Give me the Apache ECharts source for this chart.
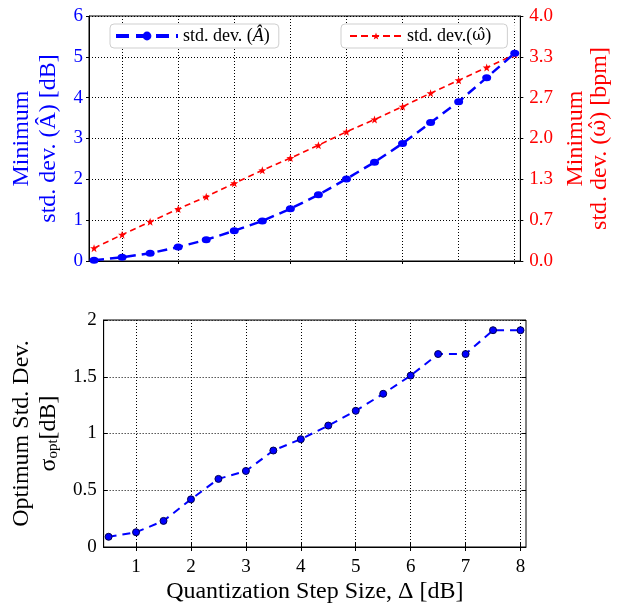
<!DOCTYPE html>
<html>
<head>
<meta charset="utf-8">
<script src="https://cdn.jsdelivr.net/npm/echarts@6/dist/echarts.min.js"></script>
<style>
  html, body { margin: 0; padding: 0; background: #fff; }
  #chart { width: 620px; height: 605px; }
</style>
</head>
<body>
<div id="chart"></div>
<script>
// Quantization step sizes Δ [dB]
const stepSizes = [0.5, 1, 1.5, 2, 2.5, 3, 3.5, 4, 4.5, 5, 5.5, 6, 6.5, 7, 7.5, 8];
// Minimum std. dev. of the amplitude estimate [dB]
const ampStd = [0.02, 0.09, 0.19, 0.34, 0.52, 0.74, 0.98, 1.28, 1.62, 2.01, 2.42, 2.88, 3.39, 3.90, 4.49, 5.09];
// Minimum std. dev. of the frequency estimate [bpm]
const freqStd = [0.21, 0.43, 0.64, 0.85, 1.05, 1.27, 1.48, 1.68, 1.89, 2.11, 2.31, 2.52, 2.74, 2.95, 3.16, 3.37];
// Optimum std. dev. σopt [dB]
const optStd = [0.09, 0.13, 0.23, 0.42, 0.60, 0.67, 0.85, 0.95, 1.07, 1.20, 1.35, 1.51, 1.70, 1.70, 1.91, 1.91];
// Lone open marker in the upper panel
const strayMark = [[8, 5.75]];

// Tick positions
const xGridTicks = [1, 2, 3, 4, 5, 6, 7, 8];
const xUpperTicks = [2, 4, 6, 8];
const freqTicks = [0, 0.66667, 1.33333, 2, 2.66667, 3.33333, 4];

const FONT = "'Liberation Serif', 'DejaVu Serif', serif";
const HAT_FONT = "'DejaVu Serif', 'Liberation Serif', serif";
const BLUE = '#0000ff';
const RED = '#ff0000';
const STAR = 'path://M0,-10 L2.35,-3.24 L9.51,-3.09 L3.8,1.24 L5.88,8.09 L0,4 L-5.88,8.09 L-3.8,1.24 L-9.51,-3.09 L-2.35,-3.24 Z';

const zip = (xs, ys) => xs.map((x, i) => [x, ys[i]]);
const dotted = { type: [1, 2], color: '#000', width: 1 };
const X_MIN = 0.41, X_MAX = 8.1;

const chart = echarts.init(document.getElementById('chart'), null, { renderer: 'canvas' });

chart.setOption({
  animation: false,
  backgroundColor: '#fff',
  grid: [
    { left: 89, top: 16, width: 435, height: 245, show: true, borderColor: '#000', borderWidth: 1, backgroundColor: 'transparent' },
    { left: 88, top: 320, width: 438, height: 227, show: true, borderColor: '#000', borderWidth: 1, backgroundColor: 'transparent' }
  ],
  legend: [
    {
      data: [{ name: 'std. dev. (Â)', lineStyle: { width: 4, type: [13, 7] } }],
      left: 110, top: 24,
      itemWidth: 62, itemHeight: 11, itemGap: 0,
      padding: [3, 9, 3, 4],
      borderColor: '#cfcfcf', borderWidth: 1, borderRadius: 4,
      backgroundColor: '#fff',
      selectedMode: false,
      formatter: () => '{t|std. dev. (}{i|Â}{t|)}',
      textStyle: {
        fontFamily: FONT, fontSize: 18, color: '#000',
        rich: {
          t: { fontFamily: FONT, fontSize: 18, color: '#000' },
          i: { fontFamily: FONT, fontSize: 18, color: '#000', fontStyle: 'italic' }
        }
      }
    },
    {
      data: [{ name: 'std. dev.(ω̂)', lineStyle: { width: 2, type: [7, 4] } }],
      left: 341, top: 24,
      itemWidth: 52, itemHeight: 9, itemGap: 0,
      padding: [3, 16, 3, 8],
      borderColor: '#cfcfcf', borderWidth: 1, borderRadius: 4,
      backgroundColor: '#fff',
      selectedMode: false,
      formatter: () => '{t|std. dev.(}{w|ω̂}{t|)}',
      textStyle: {
        fontFamily: FONT, fontSize: 18, color: '#000',
        rich: {
          t: { fontFamily: FONT, fontSize: 18, color: '#000' },
          w: { fontFamily: HAT_FONT, fontSize: 16, color: '#000' }
        }
      }
    }
  ],
  xAxis: [
    {
      gridIndex: 0, type: 'value', min: X_MIN, max: X_MAX, position: 'bottom',
      axisLine: { show: true, lineStyle: { color: '#000', width: 1 } },
      axisTick: { show: false, customValues: xGridTicks },
      axisLabel: { show: false },
      splitLine: { show: true, lineStyle: dotted }
    },
    {
      gridIndex: 0, type: 'value', min: X_MIN, max: X_MAX, position: 'bottom',
      axisLine: { show: false },
      axisTick: { show: true, inside: false, length: 3, customValues: xUpperTicks, lineStyle: { color: '#000' } },
      axisLabel: { show: false },
      splitLine: { show: false }
    },
    {
      gridIndex: 1, type: 'value', min: X_MIN, max: X_MAX, position: 'bottom',
      axisLine: { show: true, lineStyle: { color: '#000', width: 1 } },
      axisTick: { show: true, inside: true, length: 4, customValues: xGridTicks, lineStyle: { color: '#000' } },
      axisLabel: { show: true, customValues: xGridTicks, fontFamily: FONT, fontSize: 19, color: '#000', margin: 11 },
      splitLine: { show: true, lineStyle: dotted },
      name: 'Quantization Step Size, Δ [dB]',
      nameLocation: 'middle', nameGap: 33,
      nameTextStyle: { fontFamily: FONT, fontSize: 24, color: '#000' }
    },
    {
      gridIndex: 1, type: 'value', min: X_MIN, max: X_MAX, position: 'top',
      axisLine: { show: false },
      axisTick: { show: true, inside: true, length: 4, customValues: xGridTicks, lineStyle: { color: '#000' } },
      axisLabel: { show: false },
      splitLine: { show: false }
    }
  ],
  yAxis: [
    {
      gridIndex: 0, type: 'value', min: 0, max: 6, interval: 1, position: 'left',
      axisLine: { show: true, lineStyle: { color: '#000', width: 1 } },
      axisTick: { show: true, inside: false, length: 3, lineStyle: { color: '#000' } },
      axisLabel: { fontFamily: FONT, fontSize: 19, color: BLUE, margin: 6 },
      splitLine: { show: true, lineStyle: dotted },
      name: 'Minimum\nstd. dev. (Â) [dB]',
      nameLocation: 'middle', nameRotate: 90, nameGap: 21,
      nameTextStyle: { fontFamily: FONT, fontSize: 24, lineHeight: 27, color: BLUE, align: 'center' }
    },
    {
      gridIndex: 0, type: 'value', min: 0, max: 4, position: 'right',
      axisLine: { show: true, lineStyle: { color: '#000', width: 1 } },
      axisTick: { show: true, inside: false, length: 3, customValues: freqTicks, lineStyle: { color: '#000' } },
      axisLabel: { customValues: freqTicks, formatter: v => v.toFixed(1), fontFamily: FONT, fontSize: 19, color: RED, margin: 9 },
      splitLine: { show: false },
      name: '{r|Minimum}\n{r|std. dev. (}{w|ω̂}{r|) [bpm]}',
      nameLocation: 'middle', nameRotate: 90, nameGap: 37,
      nameTextStyle: {
        fontFamily: FONT, fontSize: 24, lineHeight: 24, color: RED, align: 'center',
        rich: {
          r: { fontFamily: FONT, fontSize: 24, lineHeight: 24, color: RED },
          w: { fontFamily: HAT_FONT, fontSize: 21, lineHeight: 24, color: RED }
        }
      }
    },
    {
      gridIndex: 1, type: 'value', min: 0, max: 2, interval: 0.5, position: 'left',
      axisLine: { show: true, lineStyle: { color: '#000', width: 1 } },
      axisTick: { show: true, inside: true, length: 4, lineStyle: { color: '#000' } },
      axisLabel: { fontFamily: FONT, fontSize: 19, color: '#000', margin: 7 },
      splitLine: { show: true, lineStyle: dotted },
      name: '{a|Optimum Std. Dev.}\n{a|σ}{sub|opt}{a|[dB]}',
      nameLocation: 'middle', nameRotate: 90, nameGap: 22,
      nameTextStyle: {
        fontFamily: FONT, fontSize: 24, lineHeight: 27, color: '#000', align: 'center',
        rich: {
          a: { fontFamily: FONT, fontSize: 24, lineHeight: 27, color: '#000' },
          sub: { fontFamily: FONT, fontSize: 15, lineHeight: 17, color: '#000', padding: [10, 0, 0, 0] }
        }
      }
    },
    {
      gridIndex: 1, type: 'value', min: 0, max: 2, interval: 0.5, position: 'right',
      axisLine: { show: false },
      axisTick: { show: true, inside: true, length: 4, lineStyle: { color: '#000' } },
      axisLabel: { show: false },
      splitLine: { show: false }
    }
  ],
  series: [
    {
      name: 'std. dev.(ω̂)', type: 'line', xAxisIndex: 0, yAxisIndex: 1,
      data: zip(stepSizes, freqStd),
      color: RED,
      lineStyle: { color: RED, width: 1.6, type: [6, 4] },
      itemStyle: { color: RED },
      symbol: STAR, symbolSize: 8, showSymbol: true,
      z: 3
    },
    {
      name: 'std. dev. (Â)', type: 'line', xAxisIndex: 0, yAxisIndex: 0,
      data: zip(stepSizes, ampStd),
      color: BLUE,
      lineStyle: { color: BLUE, width: 2.5, type: [10, 6] },
      itemStyle: { color: BLUE },
      symbol: 'circle', symbolSize: [9, 7], showSymbol: true,
      z: 4
    },
    {
      name: 'stray', type: 'scatter', xAxisIndex: 0, yAxisIndex: 0,
      data: strayMark,
      symbol: 'emptyCircle', symbolSize: 5,
      itemStyle: { color: '#fff', borderColor: '#333', borderWidth: 1 },
      silent: true, z: 5
    },
    {
      name: 'σopt', type: 'line', xAxisIndex: 2, yAxisIndex: 2,
      data: zip(stepSizes, optStd),
      color: BLUE,
      lineStyle: { color: BLUE, width: 2, type: [8, 6] },
      itemStyle: { color: BLUE, borderColor: '#000050', borderWidth: 1 },
      symbol: 'circle', symbolSize: 7, showSymbol: true,
      z: 4
    }
  ]
});
</script>
</body>
</html>
